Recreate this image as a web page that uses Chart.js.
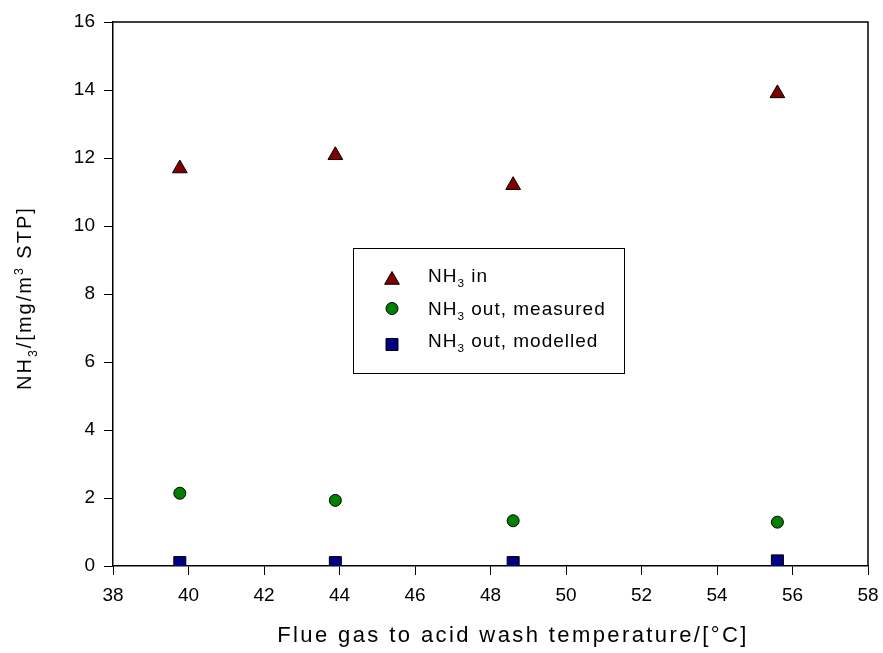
<!DOCTYPE html>
<html><head><meta charset="utf-8">
<script src="https://cdn.jsdelivr.net/npm/chart.js@4/dist/chart.umd.min.js"></script>
<style>html,body{margin:0;padding:0;background:#fff}#wrap{width:883px;height:653px;position:relative}</style>
</head><body><div id="wrap"><canvas id="c" width="883" height="653"></canvas></div>
<script>
// ---- data ----
const temperatures = [39.77, 43.89, 48.6, 55.6];
const nh3In = [11.69, 12.08, 11.2, 13.9];
const nh3OutMeasured = [2.14, 1.93, 1.33, 1.29];
const nh3OutModelled = [0.1, 0.1, 0.1, 0.15];
const xTickValues = [38, 40, 42, 44, 46, 48, 50, 52, 54, 56, 58];
const yTickValues = [0, 2, 4, 6, 8, 10, 12, 14, 16];
// rich text: [text, mode] mode: '' normal, 'sub', 'sup'
const seriesLabels = [
  [["NH", ""], ["3", "sub"], [" in", ""]],
  [["NH", ""], ["3", "sub"], [" out, measured", ""]],
  [["NH", ""], ["3", "sub"], [" out, modelled", ""]]
];
const xTitle = [["Flue gas to acid wash temperature/[°C]", ""]];
const yTitle = [["NH", ""], ["3", "sub"], ["/[mg/m", ""], ["3", "sup"], [" STP]", ""]];

const FONT = 'Arial, "Liberation Sans", sans-serif';

function toPoints(xs, ys) { return xs.map((x, i) => ({ x: x, y: ys[i] })); }

function setFont(ctx, s, sp) {
  ctx.font = s + 'px ' + FONT;
  if ('letterSpacing' in ctx) ctx.letterSpacing = sp + 'px';
}
function richWidth(ctx, parts, size, sp) {
  let w = 0;
  for (const [t, m] of parts) {
    const s = m ? size * 0.62 : size;
    setFont(ctx, s, sp);
    w += ctx.measureText(t).width;
  }
  return w;
}
function drawRich(ctx, parts, x, y, size, sp) {
  let cx = x;
  ctx.textBaseline = 'alphabetic';
  ctx.textAlign = 'left';
  for (const [t, m] of parts) {
    const s = m ? size * 0.62 : size;
    setFont(ctx, s, sp);
    let dy = 0;
    if (m === 'sub') dy = size * 0.28;
    if (m === 'sup') dy = -size * 0.42;
    ctx.fillText(t, cx, y + dy);
    cx += ctx.measureText(t).width;
  }
  if ('letterSpacing' in ctx) ctx.letterSpacing = '0px';
}

const datasets = [
  { label: 'NH3 in', data: toPoints(temperatures, nh3In), pointStyle: 'triangle', pointRadius: 8.5,
    backgroundColor: '#800000', borderColor: '#000', pointBorderWidth: 1 },
  { label: 'NH3 out, measured', data: toPoints(temperatures, nh3OutMeasured), pointStyle: 'circle', pointRadius: 6,
    backgroundColor: '#008000', borderColor: '#000', pointBorderWidth: 1 },
  { label: 'NH3 out, modelled', data: toPoints(temperatures, nh3OutModelled), pointStyle: 'rect', pointRadius: 8.5,
    backgroundColor: '#000080', borderColor: '#000', pointBorderWidth: 1 }
];

const decorPlugin = {
  id: 'decor',
  afterDraw(chart) {
    const ctx = chart.ctx;
    const a = chart.chartArea;
    ctx.save();
    // frame top and right
    ctx.strokeStyle = '#000';
    ctx.lineWidth = 1.5;
    ctx.beginPath();
    ctx.moveTo(a.left, a.top); ctx.lineTo(a.right, a.top); ctx.lineTo(a.right, a.bottom);
    ctx.stroke();
    // legend box
    const lx = 353, ly = 248, lw = 271, lh = 125;
    ctx.lineWidth = 1;
    ctx.strokeRect(lx + 0.5, ly + 0.5, lw, lh);
    const rowsY = [282, 315, 347];
    const markY = [280, 308.5, 344.5];
    chart.data.datasets.forEach((ds, i) => {
      ctx.fillStyle = ds.backgroundColor; ctx.strokeStyle = '#000'; ctx.lineWidth = 1;
      Chart.helpers.drawPoint(ctx, { pointStyle: ds.pointStyle, radius: ds.pointRadius, borderWidth: 1, rotation: 0 }, 392, markY[i]);
      ctx.fillStyle = '#000';
      drawRich(ctx, seriesLabels[i], 428, rowsY[i], 19, 1);
    });
    // x title
    ctx.fillStyle = '#000';
    const xs = 22, xsp = 2.4;
    const xw = richWidth(ctx, xTitle, xs, xsp);
    drawRich(ctx, xTitle, 513 - xw / 2, 642, xs, xsp);
    // y title
    const ys = 20, ysp = 2;
    ctx.save();
    ctx.translate(31, 390);
    ctx.rotate(-Math.PI / 2);
    drawRich(ctx, yTitle, 0, 0, ys, ysp);
    ctx.restore();
    ctx.restore();
  }
};

new Chart(document.getElementById('c'), {
  type: 'scatter',
  data: { datasets: datasets },
  options: {
    responsive: false, animation: false, devicePixelRatio: 1,
    layout: { padding: { top: 22, right: 15, left: 0, bottom: 0 } },
    plugins: { legend: { display: false }, tooltip: { enabled: false } },
    scales: {
      x: {
        type: 'linear', min: 38, max: 58,
        afterBuildTicks: s => { s.ticks = xTickValues.map(v => ({ value: v })); },
        afterFit: s => { s.height = 87; s.paddingLeft = 0; s.paddingRight = 0; },
        ticks: { color: '#000', font: { family: FONT, size: 19 }, padding: 9, maxRotation: 0, autoSkip: false },
        grid: { drawOnChartArea: false, drawTicks: true, tickLength: 9, color: '#000', lineWidth: 1 },
        border: { color: '#000', width: 1.5 }
      },
      y: {
        type: 'linear', min: 0, max: 16,
        afterBuildTicks: s => { s.ticks = yTickValues.map(v => ({ value: v })); },
        afterFit: s => { s.width = 113; s.paddingTop = 0; s.paddingBottom = 0; },
        ticks: { color: '#000', font: { family: FONT, size: 19 }, padding: 9, autoSkip: false },
        grid: { drawOnChartArea: false, drawTicks: true, tickLength: 9, color: '#000', lineWidth: 1 },
        border: { color: '#000', width: 1.5 }
      }
    }
  },
  plugins: [decorPlugin]
});
</script>
</body></html>
